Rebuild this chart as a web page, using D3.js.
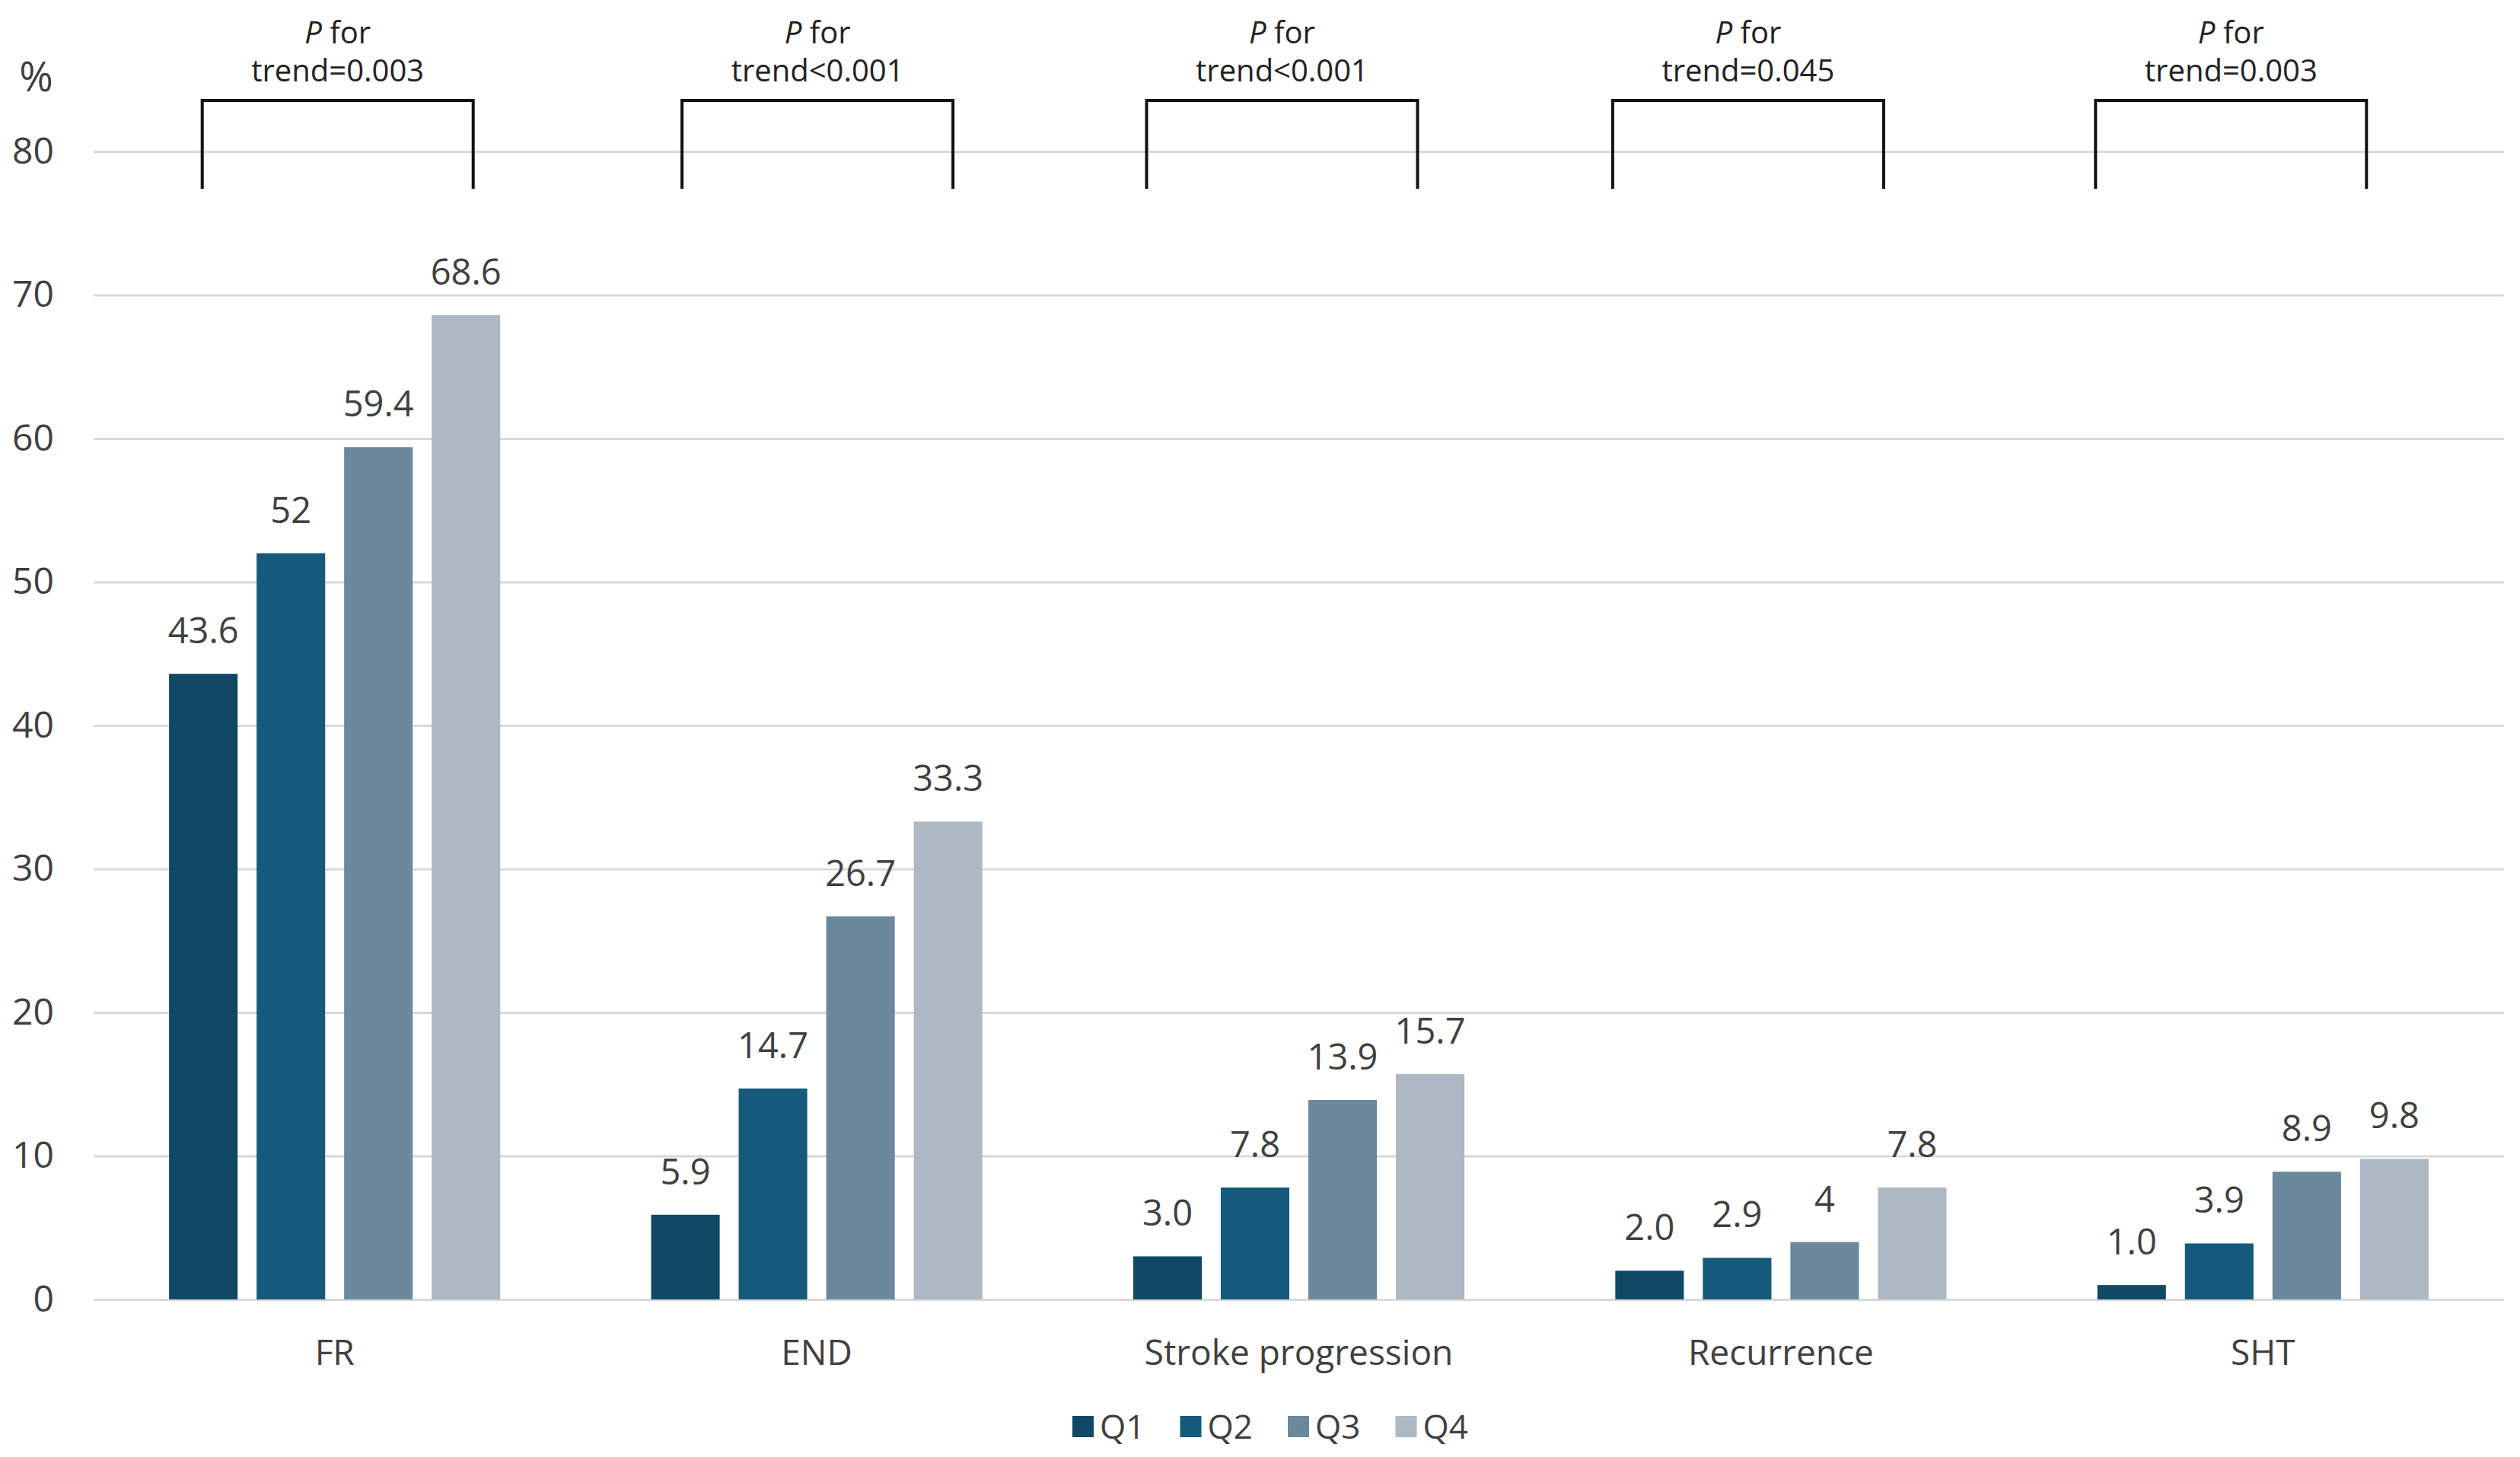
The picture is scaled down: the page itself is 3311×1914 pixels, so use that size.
<!DOCTYPE html>
<html>
<head>
<meta charset="utf-8">
<script src="https://cdn.jsdelivr.net/npm/d3@7"></script>
<style>
  html, body { margin: 0; padding: 0; background: #fff; }
  text { font-family: "Open Sans", "Noto Sans", sans-serif; }
</style>
</head>
<body>
<svg id="chart" width="3311" height="1914"></svg>
<script>
// outcome categories and quartile groups
var categories = ['FR', 'END', 'Stroke progression', 'Recurrence', 'SHT'];
var quartiles = ['Q1', 'Q2', 'Q3', 'Q4'];

// percentages per quartile, one array per series
var q1Values = [43.6, 5.9, 3.0, 2.0, 1.0];
var q2Values = [52, 14.7, 7.8, 2.9, 3.9];
var q3Values = [59.4, 26.7, 13.9, 4, 8.9];
var q4Values = [68.6, 33.3, 15.7, 7.8, 9.8];

// bar labels as printed
var q1Labels = ['43.6', '5.9', '3.0', '2.0', '1.0'];
var q2Labels = ['52', '14.7', '7.8', '2.9', '3.9'];
var q3Labels = ['59.4', '26.7', '13.9', '4', '8.9'];
var q4Labels = ['68.6', '33.3', '15.7', '7.8', '9.8'];

var trendP = ['=0.003', '<0.001', '<0.001', '=0.045', '=0.003'];
var yTicks = [0, 10, 20, 30, 40, 50, 60, 70, 80];

var colors = ['#114865', '#155a7a', '#6b889d', '#aeb8c3'];
var textColor = '#404040';

var svg = d3.select('#chart');

var left = 123, right = 3290;

var x0 = d3.scaleBand()
    .domain(categories)
    .range([left, right])
    .paddingInner(0.313)
    .paddingOuter(0.1565);

var x1 = d3.scaleBand()
    .domain(quartiles)
    .range([0, x0.bandwidth()])
    .paddingInner(0.217);

var y = d3.scaleLinear()
    .domain([0, 80])
    .range([1707, 199]);

var color = d3.scaleOrdinal().domain(quartiles).range(colors);

// y axis with gridlines
var yAxis = svg.append('g')
    .attr('transform', 'translate(' + left + ',0)')
    .call(d3.axisLeft(y)
      .tickValues(yTicks)
      .tickSize(-(right - left))
      .tickPadding(52));

yAxis.select('.domain').remove();
yAxis.selectAll('.tick line')
    .style('stroke', '#d9d9d9')
    .style('stroke-width', '3px');
yAxis.selectAll('.tick text')
    .style('font-size', '48px')
    .style('fill', textColor);

svg.append('text')
    .attr('x', 70)
    .attr('y', 120)
    .attr('text-anchor', 'end')
    .style('font-size', '54px')
    .style('fill', textColor)
    .text('%');

var series = [q1Values, q2Values, q3Values, q4Values];
var labels = [q1Labels, q2Labels, q3Labels, q4Labels];

var rows = [];
categories.forEach(function(c, i) {
  quartiles.forEach(function(q, j) {
    rows.push({ cat: c, q: q, value: series[j][i], label: labels[j][i] });
  });
});

var bars = svg.append('g');

bars.selectAll('rect')
    .data(rows)
  .enter().append('rect')
    .attr('x', function(d) { return x0(d.cat) + x1(d.q); })
    .attr('y', function(d) { return y(d.value); })
    .attr('width', x1.bandwidth())
    .attr('height', function(d) { return y(0) - y(d.value); })
    .style('fill', function(d) { return color(d.q); });

bars.selectAll('text')
    .data(rows)
  .enter().append('text')
    .attr('x', function(d) { return x0(d.cat) + x1(d.q) + x1.bandwidth() / 2; })
    .attr('y', function(d) { return y(d.value) - 40; })
    .attr('text-anchor', 'middle')
    .style('font-size', '47px')
    .style('fill', textColor)
    .text(function(d) { return d.label; });

// category labels
svg.append('g').selectAll('text')
    .data(categories)
  .enter().append('text')
    .attr('x', function(d) { return x0(d) + x0.bandwidth() / 2; })
    .attr('y', 1793)
    .attr('text-anchor', 'middle')
    .style('font-size', '46px')
    .style('fill', textColor)
    .text(function(d) { return d; });

// trend brackets, nudged as in the original figure
var bracketShift = [4, 1, -22, -43, -42],
    bracketWidth = 356,
    bracketTop = 132,
    bracketBottom = 248;

var trend = svg.append('g').selectAll('g')
    .data(categories)
  .enter().append('g')
    .attr('transform', function(d, i) {
      return 'translate(' + (x0(d) + x0.bandwidth() / 2 + bracketShift[i]) + ',0)';
    });

trend.append('path')
    .attr('d', 'M' + (-bracketWidth / 2) + ',' + bracketBottom +
               'V' + bracketTop + 'H' + (bracketWidth / 2) + 'V' + bracketBottom)
    .style('fill', 'none')
    .style('stroke', '#111')
    .style('stroke-width', '4px');

var line1 = trend.append('text')
    .attr('y', 57)
    .attr('text-anchor', 'middle')
    .style('font-size', '40px')
    .style('fill', '#222');
line1.append('tspan').style('font-style', 'italic').text('P');
line1.append('tspan').text(' for');

trend.append('text')
    .attr('y', 107)
    .attr('text-anchor', 'middle')
    .style('font-size', '40px')
    .style('fill', '#222')
    .text(function(d, i) { return 'trend' + trendP[i]; });

// legend
var legendStep = 141.5,
    legendStart = 1409;

var legend = svg.append('g').selectAll('g')
    .data(quartiles)
  .enter().append('g')
    .attr('transform', function(d, i) {
      return 'translate(' + (legendStart + i * legendStep) + ',1860)';
    });

legend.append('rect')
    .attr('width', 28)
    .attr('height', 28)
    .style('fill', function(d) { return color(d); });

legend.append('text')
    .attr('x', 36)
    .attr('y', 30)
    .style('font-size', '44px')
    .style('fill', textColor)
    .text(function(d) { return d; });
</script>
</body>
</html>
